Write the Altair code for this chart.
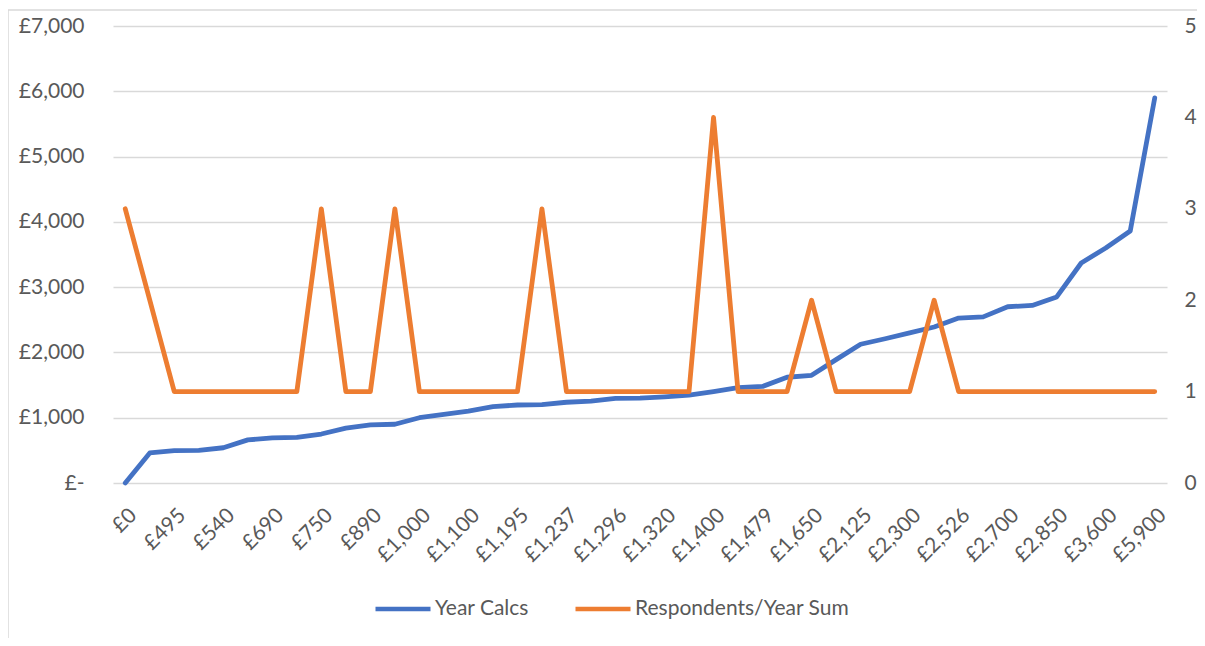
import altair as alt
import pandas as pd

# Category values (Year Calcs, sorted) and series
year_calcs = [0, 460, 495, 500, 540, 660, 690, 700, 750, 840, 890, 900, 1000, 1050,
              1100, 1170, 1195, 1200, 1237, 1255, 1296, 1300, 1320, 1345, 1400, 1460,
              1479, 1620, 1650, 1890, 2125, 2210, 2300, 2390, 2526, 2545, 2700, 2720,
              2850, 3370, 3600, 3860, 5900]
respondents = [3, 2, 1, 1, 1, 1, 1, 1, 3, 1, 1, 3, 1, 1, 1, 1, 1, 3, 1, 1, 1, 1,
               1, 1, 4, 1, 1, 1, 2, 1, 1, 1, 1, 2, 1, 1, 1, 1, 1, 1, 1, 1, 1]
categories = ["£{:,}".format(v) for v in year_calcs]
shown_labels = categories[::2]

left_ticks = [0, 1000, 2000, 3000, 4000, 5000, 6000, 7000]
right_ticks = [0, 1, 2, 3, 4, 5]
series_names = ["Year Calcs", "Respondents/Year Sum"]
series_colors = ["#4472C4", "#ED7D31"]

df = pd.DataFrame({"cat": categories, "year": year_calcs, "resp": respondents})

FONT = "Lato"
TXT = "#595959"
GRID = "#d9d9d9"

x_enc = alt.X(
    "cat:N", sort=categories,
    scale=alt.Scale(type="point", padding=0.5),
    axis=alt.Axis(values=shown_labels, labelAngle=-45, grid=False, ticks=False,
                  domain=False, labelPadding=21, title=None, labelBaseline="top",
                  labelAlign="right"),
)

color_enc = alt.Color(
    "series:N",
    scale=alt.Scale(domain=series_names, range=series_colors),
    legend=alt.Legend(title=None, orient="none", direction="horizontal",
                      legendX=260, legendY=553, symbolType="stroke",
                      symbolSize=3025, symbolStrokeWidth=4.5, labelOffset=2,
                      columnPadding=37, labelFont=FONT, labelFontSize=21,
                      labelColor=TXT, labelLimit=400),
)

blue = alt.Chart(df).transform_calculate(series="'Year Calcs'").mark_line(
    strokeWidth=4.8, strokeCap="round", strokeJoin="round"
).encode(
    x=x_enc,
    y=alt.Y("year:Q", scale=alt.Scale(domain=[0, 7000]),
            axis=alt.Axis(values=left_ticks,
                          labelExpr="datum.value == 0 ? '£-' : '£' + format(datum.value, ',')",
                          grid=True, gridColor=GRID, gridWidth=1.3, ticks=False,
                          domain=False, labelPadding=29, title=None)),
    color=color_enc,
)

orange = alt.Chart(df).transform_calculate(series="'Respondents/Year Sum'").mark_line(
    strokeWidth=4.8, strokeCap="round", strokeJoin="round"
).encode(
    x=x_enc,
    y=alt.Y("resp:Q", scale=alt.Scale(domain=[0, 5]),
            axis=alt.Axis(orient="right", values=right_ticks, format="d", grid=False,
                          ticks=False, domain=False, labelPadding=17, title=None)),
    color=color_enc,
)

border = alt.Chart(pd.DataFrame({"k": [0]})).mark_rule(
    color=GRID, strokeWidth=1.5, clip=False
).encode(
    x=alt.value(-105), x2=alt.value(-105), y=alt.value(-16), y2=alt.value(640)
)
border_top = alt.Chart(pd.DataFrame({"k": [0]})).mark_rule(
    color=GRID, strokeWidth=1.5, clip=False
).encode(
    x=alt.value(-105), x2=alt.value(1100), y=alt.value(-16), y2=alt.value(-16)
)

chart = alt.layer(blue, orange, border, border_top).resolve_scale(
    y="independent"
).properties(
    width=1054, height=457,
    autosize=alt.AutoSizeParams(type="none"),
    padding={"left": 105, "top": 18, "right": 30, "bottom": 155},
).configure_view(stroke=None).configure_axis(
    labelFont=FONT, labelFontSize=21, labelColor=TXT
)

chart.save("out.html", embed_options={"renderer": "svg", "actions": False})
